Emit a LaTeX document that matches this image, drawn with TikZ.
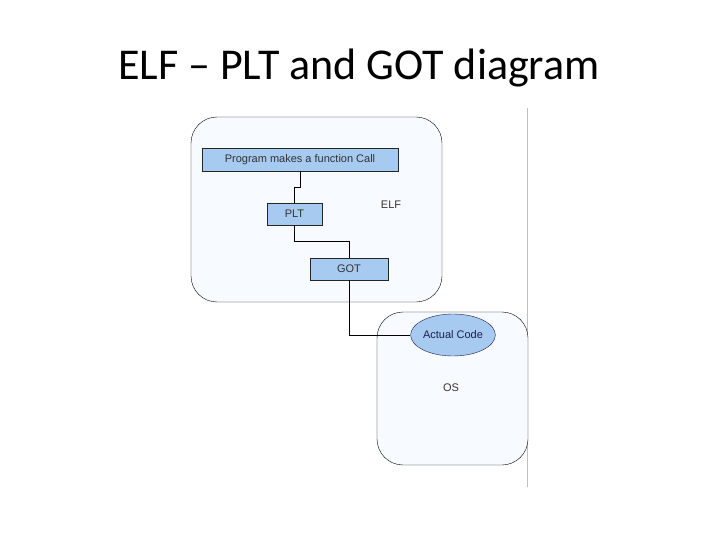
\documentclass[tikz,border=0pt]{standalone}
\usepackage{fontspec}
\setmainfont{Liberation Sans}
\newfontfamily\titlefont{Carlito}
\usetikzlibrary{positioning, shapes.geometric}

\definecolor{boxblue}{RGB}{166,202,240}
\definecolor{paleblue}{RGB}{247,251,255}
\definecolor{inkblue}{RGB}{30,30,80}

\tikzset{
    container/.style={draw=black, thin, fill=paleblue, rounded corners=26pt, inner sep=0pt},
    stepbox/.style={draw=black!85, thin, fill=boxblue, inner sep=0pt, font=\fontsize{11}{12}\selectfont, text=black!80},
    codeblob/.style={ellipse, draw=inkblue, thin, fill=boxblue, inner sep=0pt, font=\fontsize{11}{12}\selectfont, text=inkblue},
    wire/.style={draw=black, thin},
    tag/.style={font=\fontsize{11}{12}\selectfont, text=black!80}
}

\begin{document}
\begin{tikzpicture}[x=1pt, y=-1pt]
    \useasboundingbox (0,0) rectangle (720,540);
    \node[font=\titlefont\fontsize{44}{50}\selectfont] (title) at (359,68) {ELF – PLT and GOT diagram};
    \draw[black!25, thin] (527,108) -- (527,487);
    % containers
    \node[container, minimum width=251pt, minimum height=185pt] (elf) at (316.5,209.5) {};
    \node[container, minimum width=151pt, minimum height=153pt] (os) at (452.5,388.5) {};
    \node[tag] (elflabel) at (391,205) {ELF};
    \node[tag] (oslabel) at (451,388) {OS};
    % boxes
    \node[stepbox, minimum width=196pt, minimum height=23pt] (call) at (300,159.5) {Program makes a function Call};
    \node[stepbox, minimum width=55pt, minimum height=22pt] (plt) at (294.5,214) {PLT};
    \node[stepbox, minimum width=78pt, minimum height=22pt] (got) at (349,269) {GOT};
    \node[codeblob, minimum width=66pt, minimum height=42pt] (code) at (453,335) {Actual Code};
    % connectors
    \draw[wire] (call.south) -- ++(0,16) -| (plt.north);
    \draw[wire] (plt.south) -- ++(0,16) -| (got.north);
    \draw[wire] (got.south) |- (code.west);
\end{tikzpicture}
\end{document}
